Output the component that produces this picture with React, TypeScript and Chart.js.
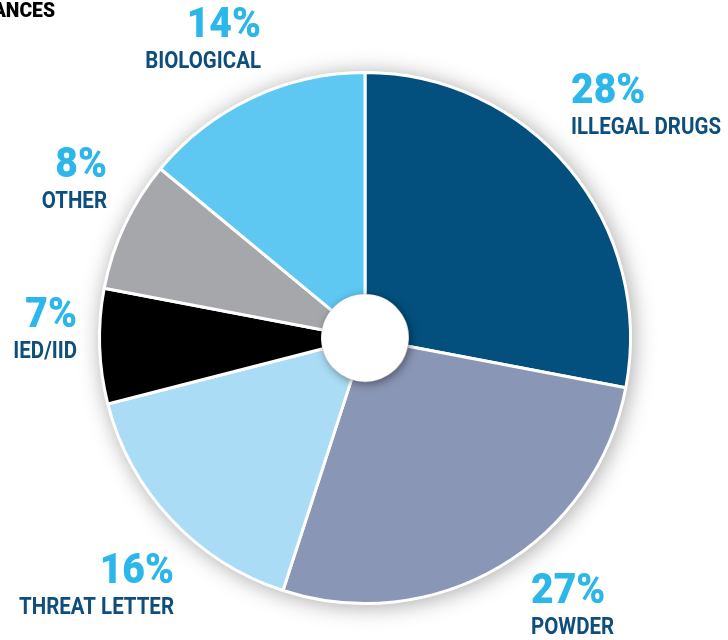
import React, { useEffect, useRef } from "react";
import { Chart, registerables } from "chart.js";

Chart.register(...registerables);

const categories = ["ILLEGAL DRUGS", "POWDER", "THREAT LETTER", "IED/IID", "OTHER", "BIOLOGICAL"];
const percentages = [28, 27, 16, 7, 8, 14];
const sliceColors = ["#03507e", "#8a96b5", "#aadcf5", "#000000", "#a6a7ab", "#5ec8f2"];
const titleText = "SUBSTANCES";

// label layout: offset of percentage baseline anchor from pie centre (px), alignment
const labelLayout = [
  { dx: 206, dy: -235, align: "left" },
  { dx: 166, dy: 265, align: "left" },
  { dx: -191, dy: 245, align: "right" },
  { dx: -288, dy: -11, align: "right" },
  { dx: -258, dy: -161, align: "right" },
  { dx: -104, dy: -301, align: "right" },
];

const FONT = "Roboto, 'Liberation Sans', sans-serif";

function drawCondensed(ctx: CanvasRenderingContext2D, text: string, x: number, y: number, align: string, sx: number) {
  ctx.save();
  ctx.translate(x, y);
  ctx.scale(sx, 1);
  ctx.textAlign = align as CanvasTextAlign;
  ctx.fillText(text, 0, 0);
  ctx.restore();
}

const decorPlugin = {
  id: "decor",
  beforeDatasetsDraw(chart: any) {
    const arc = chart.getDatasetMeta(0).data[0];
    if (!arc) return;
    const { x, y, outerRadius } = arc;
    const ctx = chart.ctx;
    ctx.save();
    ctx.shadowColor = "rgba(0,0,0,0.35)";
    ctx.shadowBlur = 22;
    ctx.shadowOffsetX = 2;
    ctx.shadowOffsetY = 2;
    ctx.fillStyle = "#ffffff";
    ctx.beginPath();
    ctx.arc(x, y, outerRadius + 1, 0, Math.PI * 2);
    ctx.fill();
    ctx.restore();
  },
  afterDatasetsDraw(chart: any) {
    const meta = chart.getDatasetMeta(0);
    const arc = meta.data[0];
    if (!arc) return;
    const { x, y, innerRadius } = arc;
    const ctx = chart.ctx;
    ctx.save();
    ctx.shadowColor = "rgba(0,0,0,0.45)";
    ctx.shadowBlur = 10;
    ctx.shadowOffsetX = 2;
    ctx.shadowOffsetY = 2;
    ctx.fillStyle = "#ffffff";
    ctx.beginPath();
    ctx.arc(x, y, innerRadius + 1, 0, Math.PI * 2);
    ctx.fill();
    ctx.restore();

    ctx.save();
    ctx.textBaseline = "alphabetic";
    categories.forEach((name, i) => {
      const L = labelLayout[i];
      const ax = x + L.dx;
      const ay = y + L.dy;
      ctx.fillStyle = "#2bb7ea";
      ctx.font = `900 42px ${FONT}`;
      drawCondensed(ctx, percentages[i] + "%", ax, ay, L.align, 0.93);
      ctx.fillStyle = "#0d4e7d";
      ctx.font = `bold 23px ${FONT}`;
      drawCondensed(ctx, name, ax, ay + 31, L.align, 0.89);
    });
    ctx.fillStyle = "#000000";
    ctx.font = `900 21px ${FONT}`;
    drawCondensed(ctx, titleText, 55, 17, "right", 0.92);
    ctx.restore();
  },
};

export default function App() {
  const ref = useRef<HTMLCanvasElement>(null);
  useEffect(() => {
    if (!ref.current) return;
    const chart = new Chart(ref.current, {
      type: "doughnut",
      data: {
        labels: categories,
        datasets: [
          {
            data: percentages,
            backgroundColor: sliceColors,
            borderColor: "#ffffff",
            borderWidth: 3,
            borderAlign: "center",
          },
        ],
      },
      options: {
        responsive: false,
        animation: false,
        cutout: "16%",
        layout: { padding: { left: 98, right: 96, top: 70, bottom: 34 } },
        plugins: {
          legend: { display: false },
          tooltip: { enabled: false },
          title: { display: false },
        },
      },
      plugins: [decorPlugin],
    });
    return () => chart.destroy();
  }, []);
  return (
    <div style={{ position: "fixed", left: 0, top: 0, width: 728, height: 640, background: "#fff" }}>
      <canvas ref={ref} width={728} height={640} style={{ width: 728, height: 640 }} />
    </div>
  );
}
